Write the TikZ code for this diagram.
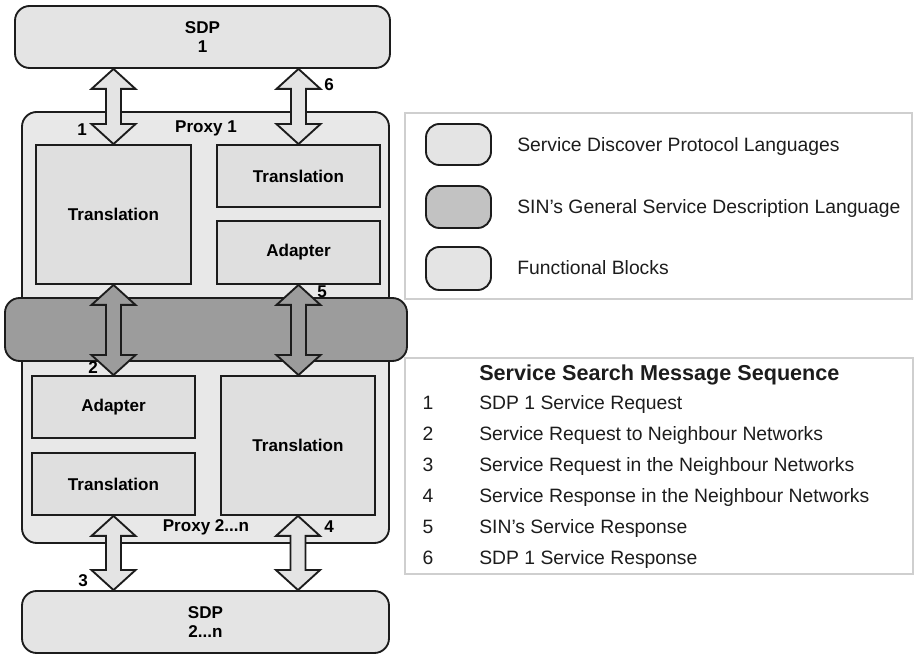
\documentclass[tikz,border=0pt]{standalone}
\usepackage{fontspec}
\setmainfont{Liberation Sans}
\usetikzlibrary{calc}
\definecolor{lite}{HTML}{E4E4E4}
\definecolor{proxyc}{HTML}{E8E8E8}
\definecolor{blockc}{HTML}{DFDFDF}
\definecolor{dark}{HTML}{9C9C9C}
\definecolor{legdark}{HTML}{C2C2C2}
\definecolor{ink}{HTML}{1C1C1C}
\definecolor{frame}{HTML}{CFCFCF}
\newcommand\lblfont{\bfseries\fontsize{12.8}{14.5}\selectfont}
\newcommand\legfont{\fontsize{14.5}{17}\selectfont}
\newcommand\bx[7]{\node[#6, minimum width={(#4-#2)*0.75pt}, minimum height={(#5-#3)*0.75pt}] (#1) at ({(#2+#4)/2},{(#3+#5)/2}) {#7};}
\newcommand\dbarrow[3]{\draw[arr, fill=#3] let \p1=(#1), \p2=(#2) in
  (\x1,\y1) -- ({\x1+16.5pt},{\y1-15pt}) -- ({\x1+5.6pt},{\y1-15pt}) -- ({\x1+5.6pt},{\y2+15pt})
  -- ({\x1+16.5pt},{\y2+15pt}) -- (\x1,\y2) -- ({\x1-16.5pt},{\y2+15pt}) -- ({\x1-5.6pt},{\y2+15pt})
  -- ({\x1-5.6pt},{\y1-15pt}) -- ({\x1-16.5pt},{\y1-15pt}) -- cycle;}
\tikzset{
  box/.style={draw=ink, line width=1.4pt, fill=blockc, font=\lblfont, inner sep=0pt},
  rbox/.style={box, rounded corners=11pt},
  arr/.style={draw=ink, line width=1.4pt, line join=miter},
  lbl/.style={font=\lblfont, inner sep=0pt},
  legframe/.style={draw=frame, line width=0.8pt, inner sep=0pt},
  legtxt/.style={font=\legfont, inner sep=0pt, anchor=base west, text=ink},
  legtitle/.style={font=\bfseries\fontsize{16.2}{19}\selectfont, inner sep=0pt, anchor=base west, text=ink},
  legnum/.style={font=\legfont, inner sep=0pt, anchor=base, text=ink}
}
\begin{document}
\begin{tikzpicture}[x=0.75pt, y=-0.75pt]
\useasboundingbox (0,0) rectangle (914,655);
% main blocks
\bx{sdp1}{15}{6}{390}{68}{rbox, fill=lite, align=center}{SDP\\1}
\bx{proxy}{22}{112}{389}{543}{rbox, fill=proxyc}{}
\bx{band}{5}{298}{407}{361}{rbox, fill=dark}{}
\bx{tl}{36}{145}{191}{284}{box}{Translation}
\bx{tr}{217}{145}{380}{207}{box}{Translation}
\bx{ad1}{217}{221}{380}{284}{box}{Adapter}
\bx{ad2}{32}{376}{195}{438}{box}{Adapter}
\bx{tl2}{32}{453}{195}{515}{box}{Translation}
\bx{tr2}{221}{376}{375}{515}{box}{Translation}
\bx{sdp2}{22}{591}{389}{653}{rbox, fill=lite, align=center}{SDP\\2...n}
% labels
\node[lbl] (p1) at (206,128) {Proxy 1};
\node[lbl] (p2) at (206,527) {Proxy 2...n};
% arrows
\dbarrow{tl.north |- sdp1.south}{tl.north}{lite}
\dbarrow{tr.north |- sdp1.south}{tr.north}{lite}
\dbarrow{tl.south}{ad2.north}{dark}
\dbarrow{ad1.south}{tr2.north}{dark}
\dbarrow{tl2.south}{tl2.south |- sdp2.north}{lite}
\dbarrow{tr2.south}{tr2.south |- sdp2.north}{lite}
\node[lbl] (n1) at (82,130) {1};
\node[lbl] (n6) at (329,85) {6};
\node[lbl] (n5) at (322,292) {5};
\node[lbl] (n2) at (93,368) {2};
\node[lbl] (n3) at (83,581) {3};
\node[lbl] (n4) at (329,527) {4};
% legend 1
\bx{leg1}{405}{113}{912}{299}{legframe}{}
\bx{k1}{426}{124}{491}{165}{rbox, rounded corners=10pt, fill=lite}{}
\bx{k2}{426}{186}{491}{228}{rbox, rounded corners=10pt, fill=legdark}{}
\bx{k3}{426}{247}{491}{290}{rbox, rounded corners=10pt, fill=lite}{}
\node[legtxt] (t1) at (517,152) {Service Discover Protocol Languages};
\node[legtxt] (t2) at (517,214) {SIN's General Service Description Language};
\node[legtxt] (t3) at (517,275) {Functional Blocks};
% legend 2
\bx{leg2}{405}{358}{913}{574}{legframe}{}
\node[legtitle] (st) at (479,381) {Service Search Message Sequence};
\node[legnum] (s1n) at (428,410) {1}; \node[legtxt] (s1) at (479,410) {SDP 1 Service Request};
\node[legnum] (s2n) at (428,441) {2}; \node[legtxt] (s2) at (479,441) {Service Request to Neighbour Networks};
\node[legnum] (s3n) at (428,472) {3}; \node[legtxt] (s3) at (479,472) {Service Request in the Neighbour Networks};
\node[legnum] (s4n) at (428,503) {4}; \node[legtxt] (s4) at (479,503) {Service Response in the Neighbour Networks};
\node[legnum] (s5n) at (428,534) {5}; \node[legtxt] (s5) at (479,534) {SIN's Service Response};
\node[legnum] (s6n) at (428,565) {6}; \node[legtxt] (s6) at (479,565) {SDP 1 Service Response};
\end{tikzpicture}
\end{document}
